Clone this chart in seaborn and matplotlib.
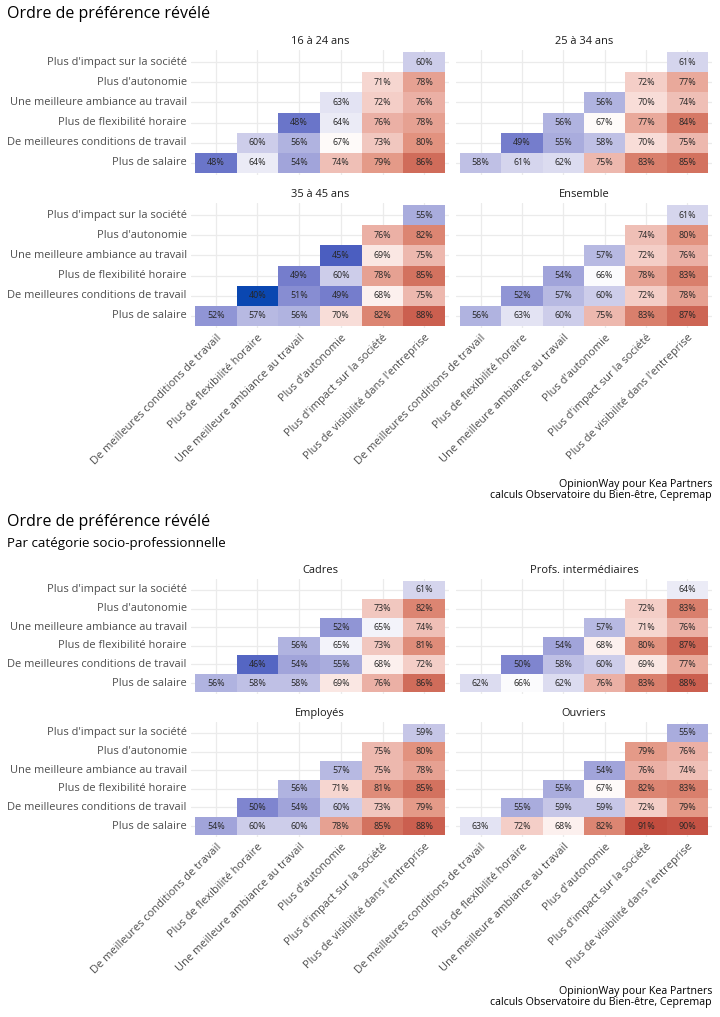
"""Ordre de préférence révélé : heatmaps triangulaires par âge et par CSP."""

import matplotlib

matplotlib.use("Agg")
import matplotlib.pyplot as plt
import numpy as np
import pandas as pd
import seaborn as sns
from matplotlib.colors import LinearSegmentedColormap

# critères en colonnes (gauche -> droite)
CRITERES_X = [
    "De meilleures conditions de travail",
    "Plus de flexibilité horaire",
    "Une meilleure ambiance au travail",
    "Plus d'autonomie",
    "Plus d'impact sur la société",
    "Plus de visibilité dans l'entreprise",
]
# critères en lignes (bas -> haut)
CRITERES_Y = [
    "Plus de salaire",
    "De meilleures conditions de travail",
    "Plus de flexibilité horaire",
    "Une meilleure ambiance au travail",
    "Plus d'autonomie",
    "Plus d'impact sur la société",
]

# une ligne par critère de CRITERES_Y, valeurs en % pour les colonnes restantes
AGE_16_24 = [[48, 64, 54, 74, 79, 86], [60, 56, 67, 73, 80], [48, 64, 76, 78], [63, 72, 76], [71, 78], [60]]
AGE_25_34 = [[58, 61, 62, 75, 83, 85], [49, 55, 58, 70, 75], [56, 67, 77, 84], [56, 70, 74], [72, 77], [61]]
AGE_35_45 = [[52, 57, 56, 70, 82, 88], [40, 51, 49, 68, 75], [49, 60, 78, 85], [45, 69, 75], [76, 82], [55]]
ENSEMBLE = [[56, 63, 60, 75, 83, 87], [52, 57, 60, 72, 78], [54, 66, 78, 83], [57, 72, 76], [74, 80], [61]]

CADRES = [[56, 58, 58, 69, 76, 86], [46, 54, 55, 68, 72], [56, 65, 73, 81], [52, 65, 74], [73, 82], [61]]
PROFS_INTER = [[62, 66, 62, 76, 83, 88], [50, 58, 60, 69, 77], [54, 68, 80, 87], [57, 71, 76], [72, 83], [64]]
EMPLOYES = [[54, 60, 60, 78, 85, 88], [50, 54, 60, 73, 79], [56, 71, 81, 85], [57, 75, 78], [75, 80], [59]]
OUVRIERS = [[63, 72, 68, 82, 91, 90], [55, 59, 59, 72, 79], [55, 67, 82, 83], [54, 76, 74], [79, 76], [55]]

TITRE = "Ordre de préférence révélé"
SOUS_TITRE = "Par catégorie socio-professionnelle"
SOURCE = "OpinionWay pour Kea Partners\ncalculs Observatoire du Bien-être, Cepremap"

VMIN, VMAX = 40, 91
# échelle divergente bleu / blanc / rouge, blanc vers 2/3
STOPS = [
    (40, "#0a47b1"), (45, "#4b5ec0"), (50, "#7f85cf"), (55, "#a9acdd"),
    (60, "#cdcdea"), (64, "#ebebf6"), (66.5, "#ffffff"), (70, "#f8ddd8"),
    (75, "#edb8ae"), (80, "#e2927f"), (85, "#d3725f"), (91, "#c24c3e"),
]
CMAP = LinearSegmentedColormap.from_list(
    "pref", [((v - VMIN) / (VMAX - VMIN), c) for v, c in STOPS]
)

W, H = 720, 1017
DPI = 100

sns.set_theme(style="white")
plt.rcParams["font.family"] = ["Open Sans", "DejaVu Sans"]

fig = plt.figure(figsize=(W / DPI, H / DPI), dpi=DPI)


def add_ax(x0, y0, x1, y1):
    """Axes from pixel box (top-left origin)."""
    return fig.add_axes([x0 / W, 1 - y1 / H, (x1 - x0) / W, (y1 - y0) / H])


def draw_panel(ax, rows, titre, show_y, show_x):
    mat = np.full((6, 6), np.nan)
    for i, row in enumerate(rows):
        mat[i, i:i + len(row)] = row
    df = pd.DataFrame(mat[::-1], index=CRITERES_Y[::-1], columns=CRITERES_X)
    labels = df.map(lambda v: "" if np.isnan(v) else f"{v:.0f}%")
    sns.heatmap(
        df,
        ax=ax,
        cmap=CMAP,
        vmin=VMIN,
        vmax=VMAX,
        annot=labels,
        fmt="",
        cbar=False,
        linewidths=0,
        annot_kws={"fontsize": 6.4, "color": "#262626"},
    )
    ax.set_xlim(-0.1, 6.1)
    ax.set_ylim(6.1, -0.1)
    ax.set_axisbelow(True)
    ax.grid(True, color="#ebebeb", linewidth=0.9, linestyle="-")
    ax.tick_params(length=0, pad=3, labelsize=7.9, labelcolor="#4d4d4d")
    ax.set_xlabel("")
    ax.set_ylabel("")
    for s in ax.spines.values():
        s.set_visible(False)
    if show_y:
        ax.set_yticklabels(CRITERES_Y[::-1], rotation=0)
    else:
        ax.set_yticklabels([])
    if show_x:
        ax.set_xticklabels(CRITERES_X, rotation=45, ha="right", rotation_mode="anchor")
    else:
        ax.set_xticklabels([])
    ax.set_title(titre, fontsize=7.9, color="#1a1a1a", pad=4)


COLS = [(190.8, 449.2), (455.8, 712.2)]

# --- par âge ---
fig.text(7 / W, 1 - 14 / H, TITRE, fontsize=11.5, color="black", va="center")
rows_age = [(50, 175), (203, 328)]
panels_age = [(AGE_16_24, "16 à 24 ans"), (AGE_25_34, "25 à 34 ans"),
              (AGE_35_45, "35 à 45 ans"), (ENSEMBLE, "Ensemble")]
for k, (rows, titre) in enumerate(panels_age):
    r, c = divmod(k, 2)
    ax = add_ax(COLS[c][0], rows_age[r][0], COLS[c][1], rows_age[r][1])
    draw_panel(ax, rows, titre, show_y=(c == 0), show_x=(r == 1))
fig.text(712 / W, 1 - 490 / H, SOURCE, fontsize=7.7, color="black",
         ha="right", va="center", linespacing=1.05)

# --- par CSP ---
fig.text(7 / W, 1 - 522 / H, TITRE, fontsize=11.5, color="black", va="center")
fig.text(7 / W, 1 - 543 / H, SOUS_TITRE, fontsize=9.6, color="black", va="center")
rows_csp = [(578.8, 694.2), (721.8, 837.2)]
panels_csp = [(CADRES, "Cadres"), (PROFS_INTER, "Profs. intermédiaires"),
              (EMPLOYES, "Employés"), (OUVRIERS, "Ouvriers")]
for k, (rows, titre) in enumerate(panels_csp):
    r, c = divmod(k, 2)
    ax = add_ax(COLS[c][0], rows_csp[r][0], COLS[c][1], rows_csp[r][1])
    draw_panel(ax, rows, titre, show_y=(c == 0), show_x=(r == 1))
fig.text(712 / W, 1 - 997 / H, SOURCE, fontsize=7.7, color="black",
         ha="right", va="center", linespacing=1.05)

fig.savefig("out.png", dpi=DPI)
